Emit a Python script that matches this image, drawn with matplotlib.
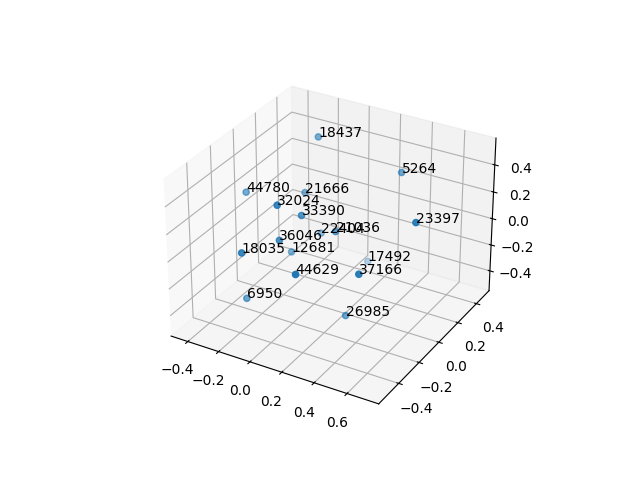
import matplotlib
matplotlib.use('Agg')
import matplotlib.pyplot as plt

# values
labels = ['18437', '5264', '23397', '44780', '21666', '32024', '33390', '22404', '21036',
          '36046', '12681', '18035', '6950', '44629', '37166', '17492', '26985']
xs = [-0.182, 0.285, 0.518, -0.446, -0.182, -0.18, -0.092, -0.069, 0.073,
      -0.155, -0.165, -0.283, -0.279, 0.042, 0.322, 0.144, 0.221]
ys = [0.317, 0.422, 0.193, 0.014, 0.187, -0.075, 0.022, 0.173, 0.101,
      -0.095, 0.03, -0.258, -0.228, -0.231, -0.054, 0.314, -0.025]
zs = [0.444, 0.259, 0.111, 0.138, 0.109, 0.185, 0.074, -0.153, -0.044,
      -0.055, -0.232, -0.082, -0.447, -0.148, -0.172, -0.394, -0.545]

fig = plt.figure()
ax = fig.add_subplot(projection='3d')
ax.scatter(xs, ys, zs)
for i in range(len(labels)):
    ax.text(xs[i], ys[i], zs[i], labels[i])

ax.set_xlim(-0.51, 0.79)
ax.set_ylim(-0.59, 0.54)
ax.set_zlim(-0.555, 0.595)
plt.savefig('out.png')
